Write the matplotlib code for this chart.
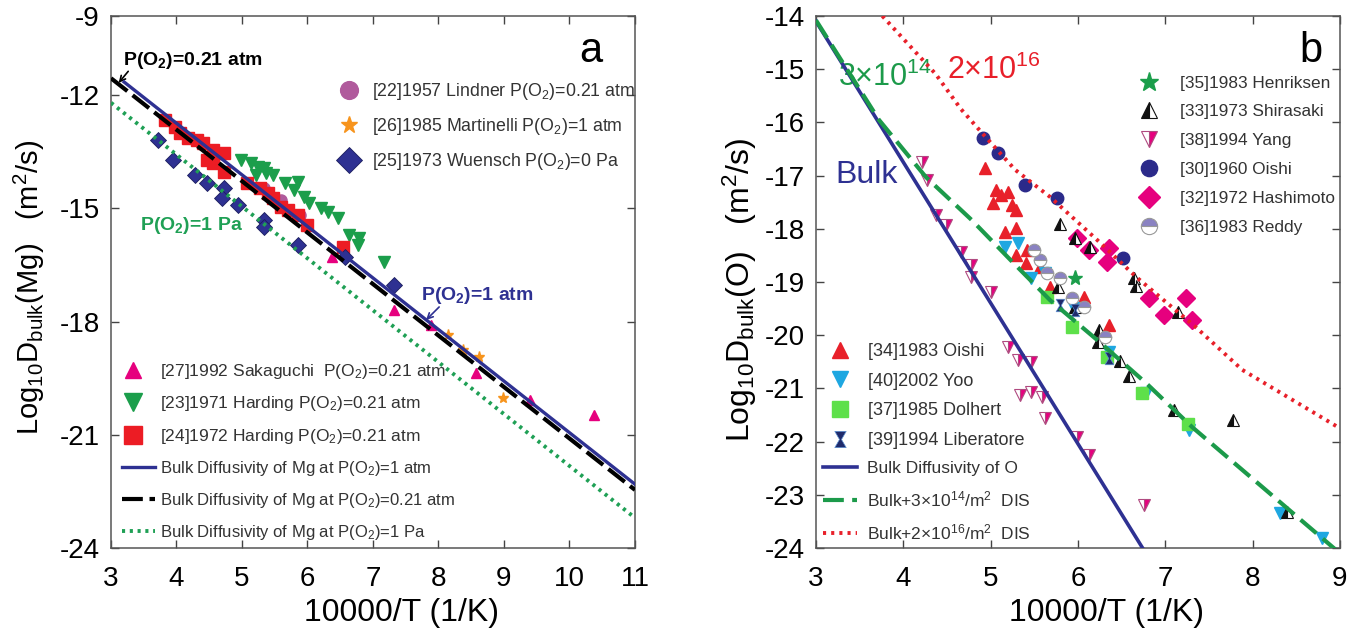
import numpy as np
import matplotlib
matplotlib.use('Agg')
import matplotlib.pyplot as plt
from matplotlib.path import Path

plt.rcParams['font.family'] = ['Liberation Sans', 'DejaVu Sans']
plt.rcParams['mathtext.default'] = 'regular'
plt.rcParams['axes.unicode_minus'] = False

# ---------------- panel a : Mg ----------------
a_yticks = [-24, -21, -18, -15, -12, -9.9]
a_yticklabels = ['-24', '-21', '-18', '-15', '-12', '-9']

a_line_1atm_x = [3.2, 11.0]
a_line_1atm_y = [-11.65, -22.31]
a_line_021_x = [3.0, 11.0]
a_line_021_y = [-11.55, -22.46]
a_line_1pa_x = [3.0, 11.0]
a_line_1pa_y = [-12.20, -23.20]

lindner_x = [5.33, 5.59, 5.89, 5.39]
lindner_y = [-14.46, -14.78, -15.17, -14.59]

martinelli_x = [8.15, 8.38, 8.62, 8.99]
martinelli_y = [-18.35, -18.76, -18.93, -20.02]

wuensch_x = [3.72, 3.95, 4.29, 4.47, 4.72, 4.70, 4.94, 5.33, 5.33, 5.85, 6.58, 7.32]
wuensch_y = [-13.19, -13.72, -14.11, -14.33, -14.46, -14.72, -14.91, -15.31, -15.49, -15.97,
             -16.28, -17.03]

sakaguchi_x = [6.38, 7.32, 7.89, 8.57, 9.39, 10.37]
sakaguchi_y = [-16.28, -17.69, -18.09, -19.36, -20.08, -20.48]

harding71_x = [4.98, 5.13, 5.24, 5.33, 5.21, 5.36, 5.48, 5.66, 5.85, 5.79, 5.94, 6.02,
               6.20, 6.31, 6.46, 6.63, 6.78, 6.77, 7.17]
harding71_y = [-13.72, -13.79, -13.90, -13.93, -14.11, -14.06, -14.11, -14.33, -14.30, -14.52,
               -14.69, -14.85, -14.99, -15.10, -15.25, -15.70, -15.79, -15.97, -16.42]

harding72_x = [3.83, 3.98, 4.06, 4.18, 4.32, 4.41, 4.56, 4.72, 4.47, 4.56, 4.72, 5.08, 5.28,
               5.39, 5.48, 5.59, 5.70, 5.85, 6.00, 6.54]
harding72_y = [-12.65, -12.84, -13.00, -13.13, -13.19, -13.27, -13.45, -13.53, -13.72, -13.79,
               -14.04, -14.33, -14.46, -14.59, -14.72, -14.96, -15.04, -15.17, -15.44, -16.02]

# ---------------- panel b : O ----------------
b_bulk_x = [3.0, 6.74]
b_bulk_y = [-14.1, -24.0]
b_dis14_x = [3.0, 3.72, 4.26, 4.78, 5.23, 5.68, 6.22, 6.78, 7.31, 9.0]
b_dis14_y = [-14.08, -15.95, -17.03, -17.83, -18.59, -19.34, -20.09, -20.90, -21.73, -24.1]
b_dis16_x = [3.76, 4.37, 4.66, 4.94, 5.28, 5.68, 6.22, 6.67, 7.35, 7.88, 9.0]
b_dis16_y = [-14.0, -15.09, -15.75, -16.27, -16.89, -17.40, -18.21, -18.91, -19.85, -20.65, -21.75]

henriksen_x = [5.97]
henriksen_y = [-18.92]

shirasaki_x = [5.79, 5.97, 6.14, 5.77, 5.97, 6.64, 6.67, 7.14, 6.24, 6.23, 6.48, 6.59, 7.10, 7.77, 8.39]
shirasaki_y = [-17.91, -18.17, -18.34, -19.09, -19.47, -18.92, -19.08, -19.56, -19.90, -20.13,
               -20.48, -20.77, -21.41, -21.59, -23.32]

yang_x = [4.21, 4.27, 4.37, 4.49, 4.66, 4.78, 4.77, 5.00, 5.20, 5.31, 5.46, 5.34, 5.46, 5.59,
          5.62, 5.99, 6.13, 6.76]
yang_y = [-16.74, -17.08, -17.74, -17.93, -18.44, -18.68, -18.91, -19.19, -20.22, -20.47, -20.50,
          -21.12, -21.07, -21.16, -21.56, -21.91, -22.25, -23.19]

oishi60_x = [4.91, 5.08, 5.39, 5.76, 6.52]
oishi60_y = [-16.29, -16.58, -17.18, -17.42, -18.55]

hashimoto_x = [5.99, 6.13, 6.35, 6.33, 6.81, 6.99, 7.24, 7.31]
hashimoto_y = [-18.17, -18.40, -18.36, -18.62, -19.30, -19.62, -19.30, -19.71]

reddy_x = [5.50, 5.56, 5.65, 5.80, 5.93, 6.07, 6.31]
reddy_y = [-18.40, -18.59, -18.83, -18.92, -19.30, -19.47, -20.03]

oishi83_x = [4.94, 5.06, 5.12, 5.20, 5.03, 5.25, 5.29, 5.16, 5.29, 5.29, 5.42, 5.40, 5.57, 5.68,
             6.07, 6.36]
oishi83_y = [-16.86, -17.27, -17.36, -17.31, -17.52, -17.55, -17.65, -18.06, -17.98, -18.49,
             -18.40, -18.64, -18.72, -19.09, -19.28, -19.81]

yoo_x = [5.17, 5.31, 5.46, 5.62, 5.96, 6.36, 6.78, 7.27, 8.31, 8.80]
yoo_y = [-18.34, -18.27, -18.92, -18.83, -19.49, -20.32, -21.09, -21.78, -23.34, -23.81]

dolhert_x = [5.65, 5.93, 6.33, 6.73, 7.26]
dolhert_y = [-19.28, -19.85, -20.41, -21.09, -21.67]

liberatore_x = [5.79, 5.97, 6.35]
liberatore_y = [-19.43, -19.53, -20.43]

navy = '#2e3192'
txt = '#333333'
hourglass = Path([(-0.7, 1), (0.7, 1), (0.12, 0), (0.7, -1), (-0.7, -1), (-0.12, 0), (-0.7, 1)],
                 [Path.MOVETO] + [Path.LINETO] * 5 + [Path.CLOSEPOLY])

fig = plt.figure(figsize=(13.67, 6.39), dpi=100)
ax1 = fig.add_axes([0.0812, 0.1424, 0.3833, 0.8326])
ax2 = fig.add_axes([0.5969, 0.1424, 0.3833, 0.8326])

for ax in (ax1, ax2):
    ax.tick_params(direction='in', top=True, right=True, length=6, width=1,
                   labelsize=20, colors='#444444', labelcolor='black')
    ax.tick_params(axis='x', pad=13)
    ax.tick_params(axis='y', pad=8)
    for s in ax.spines.values():
        s.set_color('#555555')
        s.set_linewidth(1.1)
    ax.set_xlabel('10000/T (1/K)', fontsize=23)
    ax.xaxis.set_label_coords(0.555, -0.094)

# ---- panel a ----
h_lind, = ax1.plot(lindner_x, lindner_y, 'o', color='#b05a9c', ms=8, ls='none', zorder=2,
                   label=r'[22]1957 Lindner P(O$_2$)=0.21 atm')
h_mart, = ax1.plot(martinelli_x, martinelli_y, '*', color='#f7941d', ms=8, ls='none', zorder=3,
                   label=r'[26]1985 Martinelli P(O$_2$)=1 atm')
h_wue, = ax1.plot(wuensch_x, wuensch_y, 'D', color=navy, mec='#1b1d5e', mew=0.6, ms=8, ls='none',
                  zorder=3, label=r'[25]1973 Wuensch P(O$_2$)=0 Pa')
h_sak, = ax1.plot(sakaguchi_x, sakaguchi_y, '^', color='#e6007e', ms=7, ls='none', zorder=2,
                  label=r'[27]1992 Sakaguchi  P(O$_2$)=0.21 atm')
h_h71, = ax1.plot(harding71_x, harding71_y, 'v', color='#1b9e4b', ms=8, ls='none', zorder=2,
                  label=r'[23]1971 Harding P(O$_2$)=0.21 atm')
h_h72, = ax1.plot(harding72_x, harding72_y, 's', color='#ec1c24', ms=8, ls='none', zorder=2,
                  label=r'[24]1972 Harding P(O$_2$)=0.21 atm')
l_1atm, = ax1.plot(a_line_1atm_x, a_line_1atm_y, '-', color=navy, lw=2.4, zorder=4,
                   label=r'Bulk Diffusivity of Mg at P(O$_2$)=1 atm')
l_021, = ax1.plot(a_line_021_x, a_line_021_y, color='black', lw=3, dashes=(5, 1.6), zorder=5,
                  label=r'Bulk Diffusivity of Mg at P(O$_2$)=0.21 atm')
l_1pa, = ax1.plot(a_line_1pa_x, a_line_1pa_y, color='#1fa055', lw=2.8, dashes=(0.8, 1.2), zorder=4,
                  label=r'Bulk Diffusivity of Mg at P(O$_2$)=1 Pa')

ax1.set_xlim(3, 11)
ax1.set_ylim(-24, -9.9)
ax1.set_xticks(range(3, 12))
ax1.set_yticks(a_yticks)
ax1.set_yticklabels(a_yticklabels)
ax1.set_ylabel(r'Log$_{10}$D$_{bulk}$(Mg)   (m$^2$/s)', fontsize=21)
ax1.yaxis.set_label_coords(-0.122, 0.49)

ax1.text(3.18, -11.07, r'P(O$_2$)=0.21 atm', fontsize=14, fontweight='bold', va='center')
ax1.annotate('', xy=(3.09, -11.73), xytext=(3.29, -11.31),
             arrowprops=dict(arrowstyle='->', color='black', lw=1.2))
ax1.text(3.44, -15.44, r'P(O$_2$)=1 Pa', fontsize=14, fontweight='bold', color='#1fa055', va='center')
ax1.text(7.73, -17.30, r'P(O$_2$)=1 atm', fontsize=14, fontweight='bold', color=navy, va='center')
ax1.annotate('', xy=(7.78, -18.01), xytext=(8.04, -17.56),
             arrowprops=dict(arrowstyle='->', color=navy, lw=1.2))
ax1.text(0.915, 0.935, 'a', transform=ax1.transAxes, fontsize=30, ha='center', va='center')

leg1 = ax1.legend(handles=[h_lind, h_mart, h_wue], loc='upper left', bbox_to_anchor=(0.437, 0.878),
                  frameon=False, fontsize=12.8, markerscale=1.6, handlelength=1.0, handletextpad=0.79,
                  labelspacing=0.79, borderpad=0, borderaxespad=0, labelcolor=txt)
ax1.add_artist(leg1)
leg2 = ax1.legend(handles=[h_sak, h_h71, h_h72], loc='upper left', bbox_to_anchor=(0.0172, 0.350),
                  frameon=False, fontsize=12.5, markerscale=1.7, handlelength=1.5, handletextpad=0.8,
                  labelspacing=0.78, borderpad=0, borderaxespad=0, labelcolor=txt)
ax1.add_artist(leg2)
ax1.legend(handles=[l_1atm, l_021, l_1pa], loc='upper left', bbox_to_anchor=(0.021, 0.168),
           frameon=False, fontsize=12, handlelength=1.98, handletextpad=0.3, labelspacing=0.8,
           borderpad=0, borderaxespad=0, labelcolor=txt)

# ---- panel b ----
ms_b = 9
h_hen, = ax2.plot(henriksen_x, henriksen_y, '*', color='#1b9e4b', ms=11, ls='none', zorder=3,
                  label='[35]1983 Henriksen')
h_shi, = ax2.plot(shirasaki_x, shirasaki_y, '^', fillstyle='left', mfc='#111111', mfcalt='white',
                  mec='#111111', mew=0.8, ms=ms_b, ls='none', zorder=3, label='[33]1973 Shirasaki')
h_yang, = ax2.plot(yang_x, yang_y, 'v', fillstyle='right', mfc='#e6007e', mfcalt='white',
                   mec='#b04a80', mew=0.8, ms=ms_b, ls='none', zorder=3, label='[38]1994 Yang')
h_o60, = ax2.plot(oishi60_x, oishi60_y, 'o', color='#2b2a8a', ms=ms_b, ls='none', zorder=3,
                  label='[30]1960 Oishi')
h_has, = ax2.plot(hashimoto_x, hashimoto_y, 'D', color='#e6007e', ms=ms_b, ls='none', zorder=2,
                  label='[32]1972 Hashimoto')
h_red, = ax2.plot(reddy_x, reddy_y, 'o', fillstyle='top', mfc='#8a82c2', mfcalt='white',
                  mec='#999999', mew=0.8, ms=ms_b, ls='none', zorder=3, label='[36]1983 Reddy')
h_o83, = ax2.plot(oishi83_x, oishi83_y, '^', color='#e8202a', ms=ms_b, ls='none', zorder=2,
                  label='[34]1983 Oishi')
h_yoo, = ax2.plot(yoo_x, yoo_y, 'v', color='#1ea7e1', ms=ms_b, ls='none', zorder=2,
                  label='[40]2002 Yoo')
h_dol, = ax2.plot(dolhert_x, dolhert_y, 's', color='#5ee04a', ms=ms_b, ls='none', zorder=2,
                  label='[37]1985 Dolhert')
h_lib, = ax2.plot(liberatore_x, liberatore_y, marker=hourglass, color='#1f2a6b', mec='#5a8fd0',
                  mew=0.5, ms=ms_b, ls='none', zorder=3, label='[39]1994 Liberatore')
l_bulk, = ax2.plot(b_bulk_x, b_bulk_y, '-', color=navy, lw=2.6, zorder=4,
                   label='Bulk Diffusivity of O')
l_d14, = ax2.plot(b_dis14_x, b_dis14_y, color='#1c9a4a', lw=3, dashes=(5, 2), zorder=4,
                  label=r'Bulk+3×10$^{14}$/m$^2$  DIS')
l_d16, = ax2.plot(b_dis16_x, b_dis16_y, color='#e8202a', lw=2.8, dashes=(0.8, 1.3), zorder=4,
                  label=r'Bulk+2×10$^{16}$/m$^2$  DIS')

ax2.set_xlim(3, 9)
ax2.set_ylim(-24, -14)
ax2.set_xticks(range(3, 10))
ax2.set_yticks(range(-24, -13))
ax2.set_ylabel(r'Log$_{10}$D$_{bulk}$(O)   (m$^2$/s)', fontsize=23)
ax2.yaxis.set_label_coords(-0.108, 0.485)

ax2.text(3.25, -15.15, r'3×10$^{14}$', fontsize=22, color='#1c9a4a', va='center')
ax2.text(4.50, -15.02, r'2×10$^{16}$', fontsize=22, color='#e8202a', va='center')
ax2.text(3.22, -16.99, 'Bulk', fontsize=23, color=navy, va='center')
ax2.text(0.944, 0.935, 'b', transform=ax2.transAxes, fontsize=30, ha='center', va='center')

leg3 = ax2.legend(handles=[h_hen, h_shi, h_yang, h_o60, h_has, h_red], loc='upper left',
                  bbox_to_anchor=(0.615, 0.888), frameon=False, fontsize=12.4, markerscale=1.3,
                  handlelength=1.2, handletextpad=1.25, labelspacing=0.8, borderpad=0,
                  borderaxespad=0, labelcolor=txt)
ax2.add_artist(leg3)
leg4 = ax2.legend(handles=[h_o83, h_yoo, h_dol, h_lib], loc='upper left',
                  bbox_to_anchor=(0.025, 0.385), frameon=False, fontsize=13, markerscale=1.3,
                  handlelength=1.2, handletextpad=0.95, labelspacing=0.7, borderpad=0,
                  borderaxespad=0, labelcolor=txt)
ax2.add_artist(leg4)
ax2.legend(handles=[l_bulk, l_d14, l_d16], loc='upper left', bbox_to_anchor=(0.013, 0.163),
           frameon=False, fontsize=12.5, handlelength=2.0, handletextpad=0.57, labelspacing=0.75,
           borderpad=0, borderaxespad=0, labelcolor=txt)

fig.savefig('out.png', dpi=100)
